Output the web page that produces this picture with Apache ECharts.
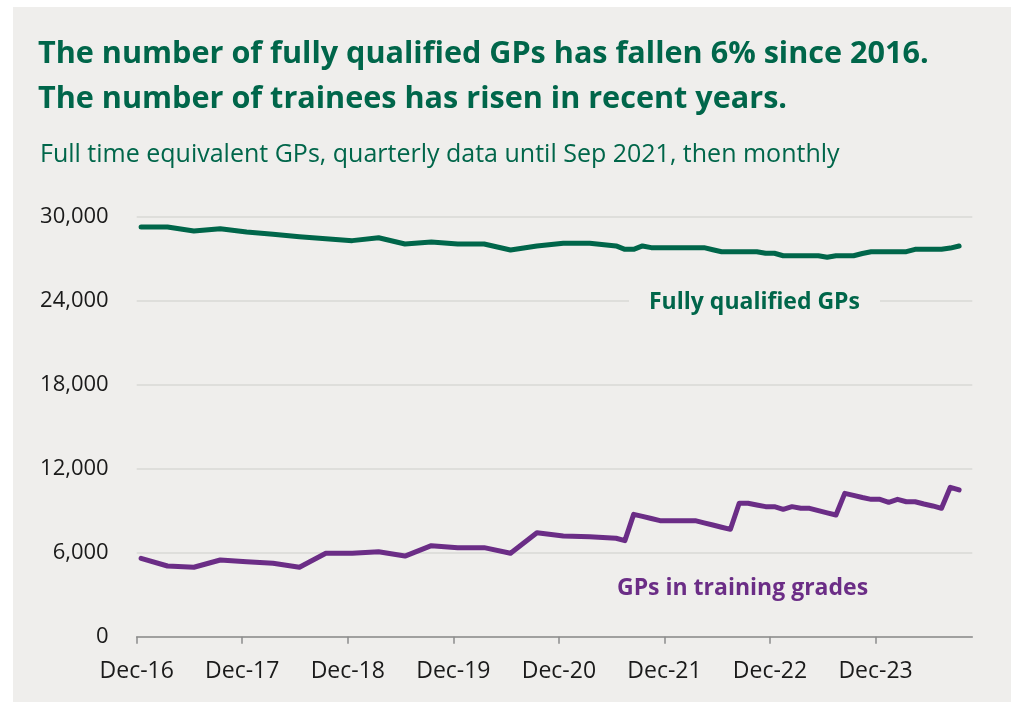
<!DOCTYPE html>
<html>
<head>
<meta charset="utf-8">
<script src="https://cdn.jsdelivr.net/npm/echarts@6/dist/echarts.min.js"></script>
<style>
  html, body { margin: 0; padding: 0; background: #ffffff; }
  #chart { width: 1011px; height: 702px; }
</style>
</head>
<body>
<div id="chart"></div>
<script>
// quarterly until Jun 2021, monthly from Jul 2021
var months = [
  "2016-12", "2017-03", "2017-06", "2017-09", "2017-12",
  "2018-03", "2018-06", "2018-09", "2018-12",
  "2019-03", "2019-06", "2019-09", "2019-12",
  "2020-03", "2020-06", "2020-09", "2020-12",
  "2021-03", "2021-06",
  "2021-07", "2021-08", "2021-09", "2021-10", "2021-11", "2021-12",
  "2022-01", "2022-02", "2022-03", "2022-04", "2022-05", "2022-06",
  "2022-07", "2022-08", "2022-09", "2022-10", "2022-11", "2022-12",
  "2023-01", "2023-02", "2023-03", "2023-04", "2023-05", "2023-06",
  "2023-07", "2023-08", "2023-09", "2023-10", "2023-11", "2023-12",
  "2024-01", "2024-02", "2024-03", "2024-04", "2024-05", "2024-06",
  "2024-07", "2024-08", "2024-09"
];

var qualifiedGPs = [
  29260, 29260, 28980, 29140, 28910,
  28740, 28570, 28430, 28290,
  28500, 28050, 28190, 28050,
  28050, 27620, 27910, 28100,
  28100, 27910,
  27670, 27670, 27910, 27790, 27790, 27790,
  27790, 27790, 27790, 27790, 27640, 27500,
  27500, 27500, 27500, 27500, 27390, 27390,
  27210, 27210, 27210, 27210, 27210, 27100,
  27210, 27210, 27210, 27370, 27500, 27500,
  27500, 27500, 27500, 27670, 27670, 27670,
  27670, 27760, 27910
];

var traineeGPs = [
  5600, 5050, 4960, 5480, 5360,
  5240, 4960, 5960, 5960,
  6070, 5760, 6500, 6360,
  6360, 5960, 7430, 7200,
  7140, 7030,
  6860, 8740, 8590, 8440, 8290, 8290,
  8290, 8290, 8290, 8130, 7980, 7820,
  7670, 9530, 9530, 9410, 9290, 9290,
  9100, 9290, 9170, 9170, 9010, 8850,
  8690, 10240, 10090, 9940, 9810, 9810,
  9600, 9810, 9640, 9640, 9480, 9340,
  9170, 10670, 10480
];

var tickLabels = ["Dec-16", "Dec-17", "Dec-18", "Dec-19", "Dec-20", "Dec-21", "Dec-22", "Dec-23"];
var yTicks = [0, 6000, 12000, 18000, 24000, 30000];

// months since Dec 2016, plotted mid-month
function monthPos(s) {
  var p = s.split("-");
  return (parseInt(p[0], 10) - 2016) * 12 + (parseInt(p[1], 10) - 12) + 0.5;
}
function pairs(values) {
  return months.map(function (m, i) { return [monthPos(m), values[i]]; });
}
var tickPos = tickLabels.map(function (t, i) { return i * 12; });

var green = "#00664a";
var purple = "#6b2d86";
var bg = "#efeeec";
var titleFont = "'Open Sans', sans-serif";

var chart = echarts.init(document.getElementById("chart"));
var option = {
  backgroundColor: "#ffffff",
  animation: false,
  graphic: [
    { type: "rect", z: -10, shape: { x: 13, y: 7, width: 998, height: 695 }, style: { fill: bg } },
    { type: "text", left: 38, top: 39, style: { text: "The number of fully qualified GPs has fallen 6% since 2016.", font: "bold 30.6px " + titleFont, fill: green } },
    { type: "text", left: 38, top: 84, style: { text: "The number of trainees has risen in recent years.", font: "bold 30.6px " + titleFont, fill: green } },
    { type: "text", left: 40, top: 142, style: { text: "Full time equivalent GPs, quarterly data until Sep 2021, then monthly", font: "25px " + titleFont, fill: green } },
    { type: "text", left: 629, top: 289, z: 10, style: { text: "Fully qualified GPs", font: "bold 23px " + titleFont, fill: green, backgroundColor: bg, padding: [2, 20] } },
    { type: "text", left: 617, top: 577, z: 10, style: { text: "GPs in training grades", font: "bold 23px " + titleFont, fill: purple } }
  ],
  grid: { left: 136.7, right: 38.7, top: 216.7, bottom: 65.3, containLabel: false },
  xAxis: {
    type: "value",
    min: 0,
    max: 95,
    interval: 12,
    axisLine: { show: true, lineStyle: { color: "#8c8c8c", width: 1.5 } },
    axisTick: { show: true, length: 7, customValues: tickPos, lineStyle: { color: "#8c8c8c", width: 1.5 } },
    axisLabel: {
      customValues: tickPos,
      margin: 23,
      fontSize: 23,
      fontFamily: titleFont,
      color: "#1a1a1a",
      formatter: function (v) { return tickLabels[Math.round(v / 12)] || ""; }
    },
    splitLine: { show: false }
  },
  yAxis: {
    type: "value",
    min: 0,
    max: 30000,
    interval: 6000,
    axisLine: { show: false },
    axisTick: { show: false },
    axisLabel: {
      margin: 28,
      fontSize: 22,
      fontFamily: titleFont,
      color: "#1a1a1a",
      formatter: function (v) { return yTicks.indexOf(v) >= 0 ? v.toLocaleString("en-GB") : ""; }
    },
    splitLine: { show: true, lineStyle: { color: "#d9d8d6", width: 1.5 } }
  },
  series: [
    {
      name: "Fully qualified GPs",
      type: "line",
      data: pairs(qualifiedGPs),
      symbol: "none",
      lineStyle: { color: green, width: 5, cap: "round", join: "round" }
    },
    {
      name: "GPs in training grades",
      type: "line",
      data: pairs(traineeGPs),
      symbol: "none",
      lineStyle: { color: purple, width: 5, cap: "round", join: "round" }
    }
  ]
};
chart.setOption(option);
</script>
</body>
</html>
